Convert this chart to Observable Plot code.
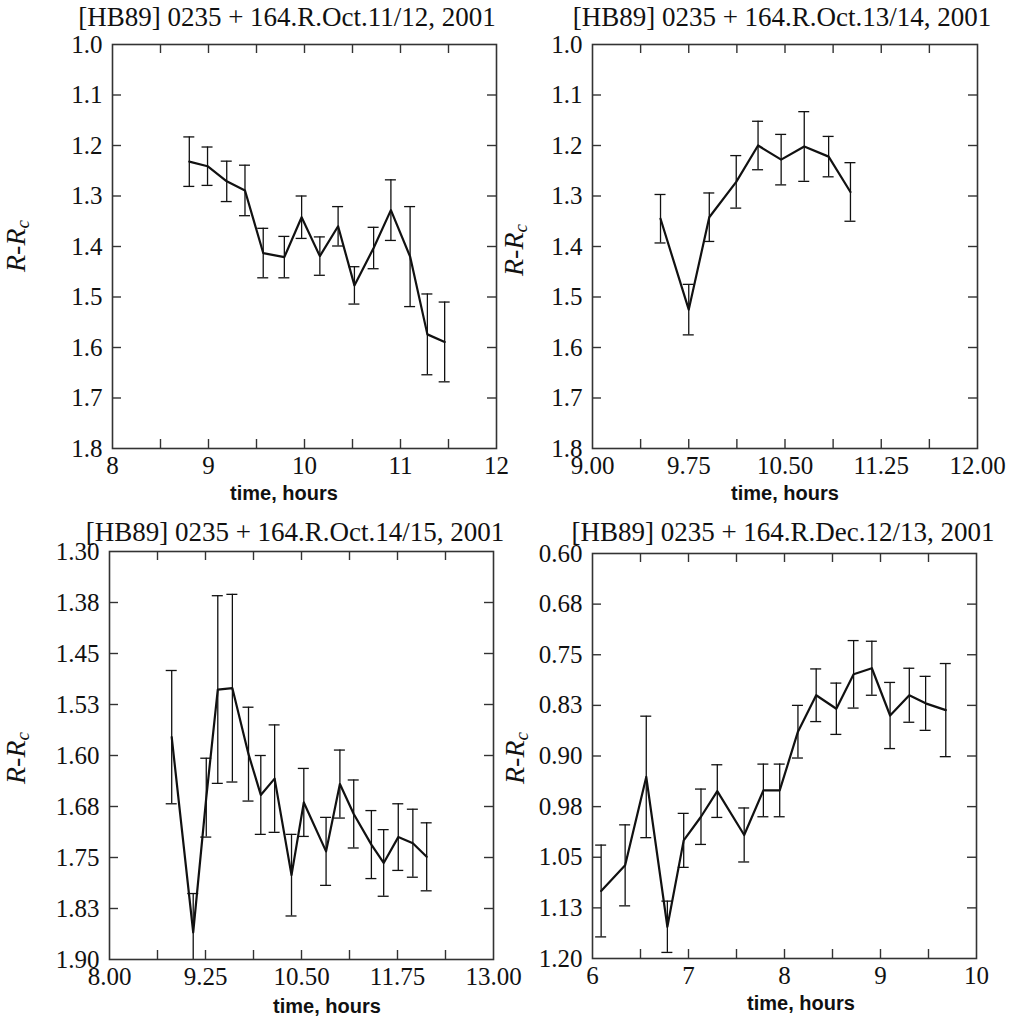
<!DOCTYPE html>
<html>
<head>
<meta charset="utf-8">
<script src="https://cdn.jsdelivr.net/npm/d3@7"></script>
<script src="https://cdn.jsdelivr.net/npm/@observablehq/plot@0.6"></script>
<style>
  body { margin: 0; background: white; }
  #root { position: relative; width: 1017px; height: 1017px; background: white; overflow: hidden; }
  .title { position: absolute; width: 600px; text-align: center; font-family: 'Liberation Serif', 'Times New Roman', serif; font-size: 27px; line-height: 1; color: #111; white-space: nowrap; }
  .xlab { position: absolute; width: 300px; text-align: center; font-family: 'Liberation Sans', Arial, sans-serif; font-weight: bold; font-size: 20px; line-height: 1; color: #111; white-space: nowrap; }
  .ylab { position: absolute; font-family: 'Liberation Serif', 'Times New Roman', serif; font-size: 28px; line-height: 1; color: #111; white-space: nowrap; transform: translate(-50%, -50%) rotate(-90deg); }
  .ylab sub { font-size: 19px; vertical-align: -4px; }
  .panel { position: absolute; }
  .panel text { font-family: 'Liberation Serif', 'Times New Roman', serif !important; }
</style>
</head>
<body>
<div id="root"></div>
<script>
// ---------- Panel titles ----------
const titles = [
  "[HB89] 0235 + 164.R.Oct.11/12, 2001",
  "[HB89] 0235 + 164.R.Oct.13/14, 2001",
  "[HB89] 0235 + 164.R.Oct.14/15, 2001",
  "[HB89] 0235 + 164.R.Dec.12/13, 2001"
];
const xAxisTitle = "time, hours";

// ---------- Panel 1: Oct 11/12 ----------
const time1 = [8.80, 8.99, 9.19, 9.38, 9.57, 9.79, 9.97, 10.16, 10.35, 10.52, 10.72, 10.90, 11.10, 11.28, 11.46];
const mag1  = [1.232, 1.241, 1.271, 1.289, 1.413, 1.421, 1.342, 1.419, 1.360, 1.477, 1.403, 1.328, 1.420, 1.574, 1.589];
const err1  = [0.049, 0.038, 0.040, 0.050, 0.049, 0.041, 0.042, 0.038, 0.039, 0.037, 0.041, 0.060, 0.099, 0.080, 0.079];
const xDomain1 = [8, 12];
const xTicks1 = [8.5, 9, 9.5, 10, 10.5, 11, 11.5];
const xLabelVals1 = [8, 9, 10, 11, 12];
const xLabels1 = ["8", "9", "10", "11", "12"];
const yDomain1 = [1.0, 1.8];
const yLabelVals1 = [1.0, 1.1, 1.2, 1.3, 1.4, 1.5, 1.6, 1.7, 1.8];
const yLabels1 = ["1.0", "1.1", "1.2", "1.3", "1.4", "1.5", "1.6", "1.7", "1.8"];

// ---------- Panel 2: Oct 13/14 ----------
const time2 = [9.53, 9.75, 9.91, 10.12, 10.29, 10.47, 10.65, 10.84, 11.01];
const mag2  = [1.345, 1.525, 1.342, 1.272, 1.200, 1.228, 1.202, 1.222, 1.292];
const err2  = [0.048, 0.050, 0.048, 0.052, 0.048, 0.050, 0.069, 0.040, 0.058];
const xDomain2 = [9, 12];
const xTicks2 = [9.375, 9.75, 10.125, 10.5, 10.875, 11.25, 11.625];
const xLabelVals2 = [9, 9.75, 10.5, 11.25, 12];
const xLabels2 = ["9.00", "9.75", "10.50", "11.25", "12.00"];
const yDomain2 = [1.0, 1.8];
const yLabelVals2 = [1.0, 1.1, 1.2, 1.3, 1.4, 1.5, 1.6, 1.7, 1.8];
const yLabels2 = ["1.0", "1.1", "1.2", "1.3", "1.4", "1.5", "1.6", "1.7", "1.8"];

// ---------- Panel 3: Oct 14/15 ----------
const time3 = [8.81, 9.09, 9.26, 9.41, 9.60, 9.81, 9.97, 10.15, 10.37, 10.53, 10.82, 11.00, 11.18, 11.41, 11.57, 11.76, 11.95, 12.13];
const mag3  = [1.573, 1.860, 1.662, 1.503, 1.501, 1.598, 1.658, 1.634, 1.776, 1.669, 1.741, 1.642, 1.686, 1.731, 1.758, 1.720, 1.729, 1.749];
const err3  = [0.098, 0.057, 0.058, 0.138, 0.138, 0.069, 0.058, 0.079, 0.060, 0.050, 0.050, 0.050, 0.050, 0.050, 0.049, 0.049, 0.050, 0.050];
const xDomain3 = [8, 13];
const xTicks3 = [8.625, 9.25, 9.875, 10.5, 11.125, 11.75, 12.375];
const xLabelVals3 = [8, 9.25, 10.5, 11.75, 13];
const xLabels3 = ["8.00", "9.25", "10.50", "11.75", "13.00"];
const yDomain3 = [1.30, 1.90];
const yLabelVals3 = [1.30, 1.375, 1.45, 1.525, 1.60, 1.675, 1.75, 1.825, 1.90];
const yLabels3 = ["1.30", "1.38", "1.45", "1.53", "1.60", "1.68", "1.75", "1.83", "1.90"];

// ---------- Panel 4: Dec 12/13 ----------
const time4 = [6.09, 6.34, 6.56, 6.78, 6.95, 7.13, 7.30, 7.58, 7.78, 7.95, 8.14, 8.33, 8.54, 8.72, 8.91, 9.10, 9.30, 9.47, 9.68];
const mag4  = [1.100, 1.062, 0.931, 1.153, 1.025, 0.990, 0.952, 1.017, 0.951, 0.951, 0.864, 0.810, 0.830, 0.779, 0.770, 0.840, 0.810, 0.822, 0.832];
const err4  = [0.068, 0.060, 0.090, 0.038, 0.040, 0.041, 0.039, 0.040, 0.039, 0.039, 0.039, 0.039, 0.038, 0.050, 0.040, 0.049, 0.040, 0.040, 0.069];
const xDomain4 = [6, 10];
const xTicks4 = [6.5, 7, 7.5, 8, 8.5, 9, 9.5];
const xLabelVals4 = [6, 7, 8, 9, 10];
const xLabels4 = ["6", "7", "8", "9", "10"];
const yDomain4 = [0.60, 1.20];
const yLabelVals4 = [0.60, 0.675, 0.75, 0.825, 0.90, 0.975, 1.05, 1.125, 1.20];
const yLabels4 = ["0.60", "0.68", "0.75", "0.83", "0.90", "0.98", "1.05", "1.13", "1.20"];

// ---------- Layout (SVG boxes and margins) ----------
const panels = [
  {t: time1, v: mag1, e: err1, xd: xDomain1, xt: xTicks1, xlv: xLabelVals1, xl: xLabels1, yd: yDomain1, ylv: yLabelVals1, yl: yLabels1,
   left: 0, top: 0, w: 510, h: 510, ml: 112, mr: 14, mt: 44, mb: 62,
   title: titles[0], titleCx: 287, titleTop: 4,
   xlabCx: 284, xlabTop: 483, ylabCx: 17, ylabCy: 246},
  {t: time2, v: mag2, e: err2, xd: xDomain2, xt: xTicks2, xlv: xLabelVals2, xl: xLabels2, yd: yDomain2, ylv: yLabelVals2, yl: yLabels2,
   left: 510, top: 0, w: 507, h: 510, ml: 82, mr: 40, mt: 44, mb: 62,
   title: titles[1], titleCx: 782, titleTop: 4,
   xlabCx: 785, xlabTop: 483, ylabCx: 515, ylabCy: 250},
  {t: time3, v: mag3, e: err3, xd: xDomain3, xt: xTicks3, xlv: xLabelVals3, xl: xLabels3, yd: yDomain3, ylv: yLabelVals3, yl: yLabels3,
   left: 0, top: 510, w: 510, h: 507, ml: 109, mr: 17, mt: 41, mb: 58,
   title: titles[2], titleCx: 295, titleTop: 519,
   xlabCx: 327, xlabTop: 996, ylabCx: 17, ylabCy: 758},
  {t: time4, v: mag4, e: err4, xd: xDomain4, xt: xTicks4, xlv: xLabelVals4, xl: xLabels4, yd: yDomain4, ylv: yLabelVals4, yl: yLabels4,
   left: 510, top: 510, w: 507, h: 507, ml: 82, mr: 41, mt: 43, mb: 59,
   title: titles[3], titleCx: 783, titleTop: 519,
   xlabCx: 801, xlabTop: 993, ylabCx: 516, ylabCy: 758}
];

const root = document.getElementById("root");
const TICK = 9;
const SERIF = "'Liberation Serif', 'Times New Roman', serif";

for (const p of panels) {
  const rows = p.t.map((t, i) => ({t, v: p.v[i], lo: p.v[i] - p.e[i], hi: p.v[i] + p.e[i]}));
  const innerW = p.w - p.ml - p.mr;
  const innerH = p.h - p.mt - p.mb;
  const xFmt = new Map(p.xlv.map((d, i) => [d, p.xl[i]]));
  const yFmt = new Map(p.ylv.map((d, i) => [d, p.yl[i]]));
  const yInner = p.ylv.slice(1, -1);

  const chart = Plot.plot({
    width: p.w, height: p.h,
    marginLeft: p.ml, marginRight: p.mr, marginTop: p.mt, marginBottom: p.mb,
    x: {domain: p.xd},
    y: {domain: p.yd, reverse: true},
    style: `font-family: ${SERIF}; font-size: 25px; color: #111; background: transparent; overflow: visible;`,
    marks: [
      // inward ticks on all four sides
      Plot.ruleX(p.xt, {insetBottom: innerH - TICK, stroke: "#333", strokeWidth: 1.4}),
      Plot.ruleX(p.xt, {insetTop: innerH - TICK, stroke: "#333", strokeWidth: 1.4}),
      Plot.ruleY(yInner, {insetRight: innerW - TICK, stroke: "#333", strokeWidth: 1.4}),
      Plot.ruleY(yInner, {insetLeft: innerW - TICK, stroke: "#333", strokeWidth: 1.4}),
      // tick labels
      Plot.axisX(p.xlv, {anchor: "bottom", tickSize: 0, tickPadding: 8, tickFormat: d => xFmt.get(d), label: null, fontFamily: SERIF, fontSize: 25}),
      Plot.axisY(p.ylv, {anchor: "left", tickSize: 0, tickPadding: 10, tickFormat: d => yFmt.get(d), label: null, fontFamily: SERIF, fontSize: 25}),
      // error bars
      Plot.ruleX(rows, {x: "t", y1: "lo", y2: "hi", stroke: "#111", strokeWidth: 1.3, clip: true}),
      Plot.ruleY(rows, {y: "lo", x1: "t", x2: "t", insetLeft: -5.5, insetRight: -5.5, stroke: "#111", strokeWidth: 1.3, clip: true}),
      Plot.ruleY(rows, {y: "hi", x1: "t", x2: "t", insetLeft: -5.5, insetRight: -5.5, stroke: "#111", strokeWidth: 1.3, clip: true}),
      // light curve
      Plot.line(rows, {x: "t", y: "v", stroke: "#111", strokeWidth: 2.2, clip: true}),
      Plot.frame({stroke: "#333", strokeWidth: 1.6})
    ]
  });
  chart.classList.add("panel");
  chart.style.left = p.left + "px";
  chart.style.top = p.top + "px";
  root.appendChild(chart);

  const tdiv = document.createElement("div");
  tdiv.className = "title";
  tdiv.textContent = p.title;
  tdiv.style.left = (p.titleCx - 300) + "px";
  tdiv.style.top = p.titleTop + "px";
  root.appendChild(tdiv);

  const xdiv = document.createElement("div");
  xdiv.className = "xlab";
  xdiv.textContent = xAxisTitle;
  xdiv.style.left = (p.xlabCx - 150) + "px";
  xdiv.style.top = p.xlabTop + "px";
  root.appendChild(xdiv);

  const ydiv = document.createElement("div");
  ydiv.className = "ylab";
  ydiv.innerHTML = "<i>R</i>-<i>R<sub>c</sub></i>";
  ydiv.style.left = p.ylabCx + "px";
  ydiv.style.top = p.ylabCy + "px";
  root.appendChild(ydiv);
}
</script>
</body>
</html>
